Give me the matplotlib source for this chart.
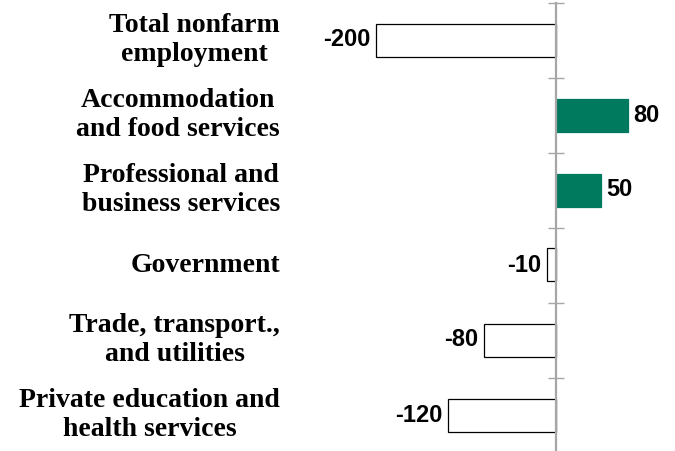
import matplotlib
matplotlib.use('agg')
import matplotlib.pyplot as plt
import matplotlib.transforms as mtransforms

# data
categories = ['Total nonfarm\nemployment', 'Accommodation\nand food services',
              'Professional and\nbusiness services', 'Government',
              'Trade, transport.,\nand utilities', 'Private education and\nhealth services']
values = [-200, 80, 50, -10, -80, -120]

green = '#007A5E'
gray = '#A6A6A6'

fig = plt.figure(figsize=(6.75, 4.51), dpi=100)
ax = fig.add_axes([290 / 675, -1.5 / 451, 385 / 675, 450 / 451])

ypos = list(range(len(categories)))
colors = [green if v > 0 else 'white' for v in values]
edges = [green if v > 0 else 'black' for v in values]
bars = ax.barh(ypos, values, height=0.44, color=colors, edgecolor=edges, linewidth=0.9)

ax.set_ylim(5.5, -0.5)
ax.set_xlim(-(556 - 290) / 0.9, (675 - 556) / 0.9)

# vertical zero axis with cross ticks between categories
for s in ['top', 'right', 'bottom']:
    ax.spines[s].set_visible(False)
ax.spines['left'].set_position(('data', 0))
ax.spines['left'].set_color(gray)
ax.spines['left'].set_linewidth(1.6)
ax.set_xticks([])
ax.set_yticks([y - 0.5 for y in range(len(categories) + 1)])
ax.set_yticklabels([])
ax.tick_params(axis='y', direction='inout', length=12, width=1, color=gray)

ax.bar_label(bars, fmt='%g', padding=4, fontsize=17, fontweight='bold',
             family='Liberation Sans')

# category labels on the left
trans = mtransforms.blended_transform_factory(fig.transFigure, ax.transData)
for y, c in zip(ypos, categories):
    ax.text(280 / 675, y, c, transform=trans, ha='right', va='center',
            multialignment='center', fontsize=20, fontweight='bold',
            family='Liberation Serif', linespacing=1.2)

fig.savefig('out.png', dpi=100)
